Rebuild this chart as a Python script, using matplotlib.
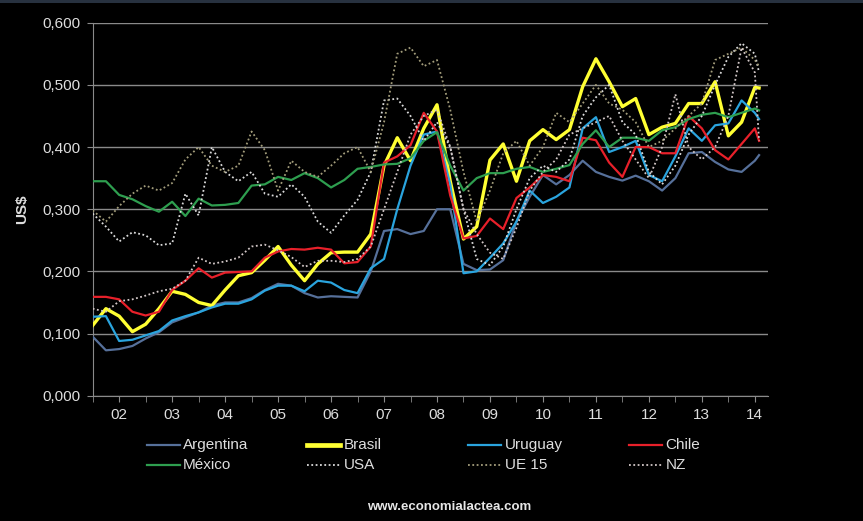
import numpy as np
import matplotlib
matplotlib.use('Agg')
import matplotlib.pyplot as plt
from matplotlib.lines import Line2D
from matplotlib.ticker import FuncFormatter

plt.rcParams['font.family'] = ['Liberation Sans', 'DejaVu Sans']

# quarterly points, mid-2001 to early 2014
dates = np.append(np.arange(2001.5, 2014.01, 0.25), 2014.08)
year_labels = ['02', '03', '04', '05', '06', '07', '08', '09', '10', '11', '12', '13', '14']

argentina = [0.095, 0.073, 0.075, 0.080, 0.092, 0.102, 0.118, 0.126, 0.134, 0.145,
             0.150, 0.150, 0.157, 0.170, 0.180, 0.177, 0.165, 0.158, 0.160, 0.159,
             0.158, 0.200, 0.265, 0.268, 0.260, 0.265, 0.300, 0.300, 0.212, 0.202,
             0.203, 0.218, 0.280, 0.320, 0.355, 0.340, 0.355, 0.378, 0.360, 0.352,
             0.346, 0.354, 0.345, 0.330, 0.350, 0.390, 0.392, 0.376, 0.364, 0.360,
             0.378, 0.387]
brasil = [0.113, 0.140, 0.128, 0.103, 0.115, 0.140, 0.168, 0.163, 0.150, 0.145,
          0.170, 0.193, 0.198, 0.218, 0.240, 0.210, 0.185, 0.212, 0.230, 0.231,
          0.231, 0.260, 0.370, 0.415, 0.378, 0.430, 0.468, 0.345, 0.252, 0.272,
          0.379, 0.405, 0.345, 0.410, 0.428, 0.412, 0.428, 0.497, 0.542, 0.505,
          0.465, 0.478, 0.420, 0.432, 0.438, 0.470, 0.470, 0.505, 0.418, 0.440,
          0.496, 0.495]
uruguay = [0.127, 0.128, 0.088, 0.090, 0.097, 0.104, 0.121, 0.128, 0.134, 0.142,
           0.148, 0.148, 0.155, 0.169, 0.177, 0.177, 0.168, 0.185, 0.182, 0.170,
           0.165, 0.205, 0.220, 0.300, 0.370, 0.420, 0.425, 0.340, 0.197, 0.200,
           0.222, 0.245, 0.280, 0.330, 0.310, 0.320, 0.335, 0.430, 0.448, 0.392,
           0.400, 0.410, 0.355, 0.345, 0.385, 0.430, 0.410, 0.435, 0.438, 0.475,
           0.455, 0.445]
chile = [0.159, 0.159, 0.155, 0.135, 0.129, 0.135, 0.170, 0.185, 0.205, 0.190,
         0.198, 0.199, 0.200, 0.222, 0.232, 0.236, 0.235, 0.238, 0.235, 0.213,
         0.215, 0.240, 0.375, 0.385, 0.403, 0.455, 0.425, 0.322, 0.253, 0.257,
         0.285, 0.268, 0.318, 0.335, 0.355, 0.352, 0.345, 0.415, 0.411, 0.375,
         0.352, 0.400, 0.400, 0.390, 0.390, 0.450, 0.430, 0.395, 0.380, 0.405,
         0.430, 0.410]
mexico = [0.345, 0.345, 0.323, 0.316, 0.305, 0.296, 0.312, 0.289, 0.317, 0.306,
          0.307, 0.310, 0.338, 0.340, 0.352, 0.347, 0.358, 0.350, 0.335, 0.347,
          0.365, 0.368, 0.372, 0.373, 0.382, 0.410, 0.424, 0.370, 0.330, 0.350,
          0.358, 0.358, 0.365, 0.368, 0.360, 0.365, 0.371, 0.405, 0.427, 0.400,
          0.415, 0.415, 0.410, 0.427, 0.432, 0.445, 0.452, 0.455, 0.448, 0.455,
          0.462, 0.459]
usa = [0.293, 0.272, 0.248, 0.263, 0.258, 0.242, 0.245, 0.325, 0.290, 0.400,
       0.360, 0.345, 0.360, 0.325, 0.320, 0.340, 0.320, 0.280, 0.262, 0.290,
       0.315, 0.360, 0.475, 0.478, 0.450, 0.410, 0.440, 0.400, 0.300, 0.220,
       0.210, 0.240, 0.300, 0.350, 0.370, 0.360, 0.380, 0.450, 0.480, 0.500,
       0.440, 0.420, 0.360, 0.340, 0.370, 0.420, 0.450, 0.500, 0.545, 0.567,
       0.550, 0.520]
ue15 = [0.298, 0.280, 0.305, 0.325, 0.338, 0.330, 0.342, 0.380, 0.400, 0.370,
        0.360, 0.370, 0.425, 0.395, 0.330, 0.378, 0.360, 0.352, 0.370, 0.390,
        0.400, 0.360, 0.440, 0.550, 0.560, 0.530, 0.540, 0.460, 0.360, 0.280,
        0.330, 0.390, 0.410, 0.370, 0.400, 0.455, 0.440, 0.470, 0.500, 0.470,
        0.460, 0.440, 0.400, 0.410, 0.430, 0.450, 0.470, 0.540, 0.550, 0.560,
        0.540, 0.530]
nz = [0.140, 0.135, 0.152, 0.155, 0.161, 0.168, 0.172, 0.185, 0.222, 0.212,
      0.216, 0.222, 0.240, 0.243, 0.234, 0.223, 0.207, 0.217, 0.217, 0.215,
      0.220, 0.240, 0.300, 0.360, 0.420, 0.450, 0.460, 0.400, 0.300, 0.260,
      0.230, 0.220, 0.270, 0.330, 0.360, 0.380, 0.420, 0.430, 0.440, 0.450,
      0.410, 0.380, 0.350, 0.400, 0.485, 0.400, 0.380, 0.400, 0.450, 0.560,
      0.520, 0.410]

dots = (0, (1, 1.4))
# name, values, colour, width, style
series = [
    ('Argentina', argentina, '#56709a', 1.6, '-'),
    ('Brasil', brasil, '#ffff33', 2.4, '-'),
    ('Uruguay', uruguay, '#2aa4de', 1.6, '-'),
    ('Chile', chile, '#e8202a', 1.6, '-'),
    ('México', mexico, '#2e9e4f', 1.6, '-'),
    ('USA', usa, '#dadada', 1.3, dots),
    ('UE 15', ue15, '#a39d7b', 1.3, dots),
    ('NZ', nz, '#d2c7c7', 1.3, dots),
]

grey = '#8a8a8a'
txt = '#dedede'

fig = plt.figure(figsize=(8.63, 5.21), dpi=100, facecolor='black')
ax = fig.add_axes([0.1074, 0.2405, 0.7826, 0.7159])
ax.set_facecolor('black')

for name, vals, col, lw, ls in series:
    ax.plot(dates, vals, color=col, lw=lw, ls=ls, label=name, zorder=3)

ax.set_xlim(2001.5, 2014.25)
ax.set_ylim(0, 0.6)
ax.set_yticks(np.arange(0, 0.61, 0.1))
ax.yaxis.set_major_formatter(FuncFormatter(lambda v, p: f'{v:.3f}'.replace('.', ',')))
ax.set_xticks(range(2002, 2015))
ax.set_xticklabels(year_labels)
ax.set_xticks(np.arange(2001.5, 2014.0, 1.0), minor=True)

ax.grid(axis='y', color=grey, lw=1, zorder=1)
ax.set_axisbelow(True)
for side in ['top', 'right']:
    ax.spines[side].set_visible(False)
for side in ['left', 'bottom']:
    ax.spines[side].set_color(grey)
ax.tick_params(axis='both', which='both', length=4, color=grey, labelcolor=txt, labelsize=11)
ax.tick_params(axis='y', pad=5)
ax.tick_params(axis='x', pad=5)

ax.set_ylabel('US$', fontsize=11, fontweight='bold', color=txt)
ax.yaxis.set_label_coords(-0.094, 0.5)

# legend, two rows of four
col_x = [146.5, 307, 468, 629]
row_y = [445, 465]
W, H = 863, 521
for i, (name, vals, col, lw, ls) in enumerate(series):
    x0 = col_x[i % 4]
    y0 = row_y[i // 4]
    fig.add_artist(Line2D([x0 / W, (x0 + 33) / W], [1 - y0 / H, 1 - y0 / H],
                          transform=fig.transFigure, color=col,
                          lw=lw + (1.0 if name == 'Brasil' else 0), ls=ls))
    fig.text((x0 + 36.5) / W, 1 - y0 / H, name, color=txt, fontsize=11,
             ha='left', va='center')

fig.text(0.521, 0.027, 'www.economialactea.com', ha='center', va='center',
         fontsize=9.5, fontweight='bold', color='#e6e6e6')

# thin band along the top edge
fig.add_artist(plt.Rectangle((0, 1 - 3 / H), 1, 3 / H, transform=fig.transFigure,
                             color='#27313f', lw=0))

fig.savefig('out.png', dpi=100, facecolor='black')
